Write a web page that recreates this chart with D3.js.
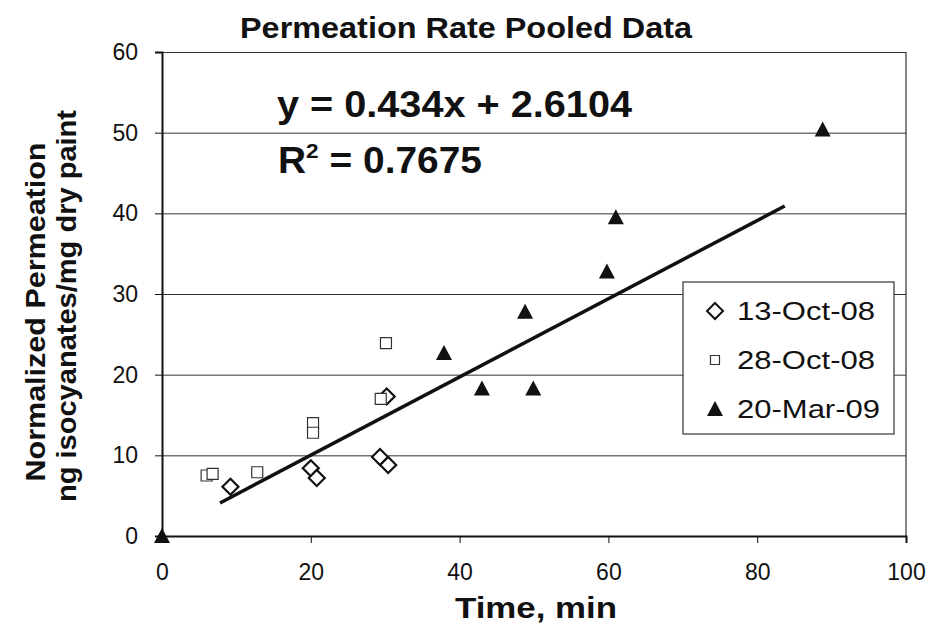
<!DOCTYPE html>
<html>
<head>
<meta charset="utf-8">
<script src="https://cdn.jsdelivr.net/npm/d3@7"></script>
<style>
  body { margin: 0; background: #fff; }
  text { font-family: "Liberation Sans", Arial, sans-serif; fill: #111; }
</style>
</head>
<body>
<div id="chart"></div>
<script>
// data
const octA = [[9.2, 6.1], [20.0, 8.4], [20.8, 7.2], [29.3, 9.8], [30.4, 8.8], [30.2, 17.3]]
const octB = [[6.0, 7.5], [6.8, 7.7], [12.8, 7.9], [20.3, 14.0], [20.3, 12.8], [29.4, 17.0], [30.1, 23.9]]
const mar = [[0, 0], [37.9, 22.7], [43.0, 18.3], [48.8, 27.8], [49.9, 18.3], [59.8, 32.8], [61.0, 39.5], [88.8, 50.4]]
const trendX = [7.8, 83.7]
const trendY = [4.1, 40.9]
const xTicks = [0, 20, 40, 60, 80, 100]
const yTicks = [0, 10, 20, 30, 40, 50, 60]
const seriesNames = ['13-Oct-08', '28-Oct-08', '20-Mar-09']

let margin = {top: 52, left: 162, right: 27, bottom: 90}
let W = 933, H = 626
let pxX = W - margin.left - margin.right,
    pxY = H - margin.top - margin.bottom

let svg = d3.select('#chart').append('svg')
    .attr('width', W).attr('height', H)

let g = svg.append('g')
    .attr('transform', `translate(${margin.left},${margin.top})`)

let scX = d3.scaleLinear().domain([0, 100]).range([0, pxX])
let scY = d3.scaleLinear().domain([0, 60]).range([pxY, 0])

// grid lines
g.append('g')
    .call(d3.axisLeft(scY).tickValues(yTicks.slice(1)).tickSize(-pxX).tickFormat(''))
    .call(a => a.select('.domain').remove())
    .selectAll('line').attr('stroke', '#333').attr('stroke-width', 1)

// frame right side
g.append('line').attr('x1', pxX).attr('x2', pxX).attr('y1', 0).attr('y2', pxY)
    .attr('stroke', '#333').attr('stroke-width', 1.2)

// axes
let yAxis = g.append('g').call(d3.axisLeft(scY).tickValues(yTicks).tickSize(7).tickPadding(17))
let xAxis = g.append('g').attr('transform', `translate(0,${pxY})`)
    .call(d3.axisBottom(scX).tickValues(xTicks).tickSize(7).tickPadding(21))
;[xAxis, yAxis].forEach(a => {
    a.select('.domain').attr('stroke', '#111').attr('stroke-width', 2)
    a.selectAll('line').attr('stroke', '#111')
    a.selectAll('text').attr('font-size', '23px').attr('fill', '#111')
        .style('font-family', '"Liberation Sans", Arial, sans-serif')
})

// trend line
g.append('line')
    .attr('x1', scX(trendX[0])).attr('y1', scY(trendY[0]))
    .attr('x2', scX(trendX[1])).attr('y2', scY(trendY[1]))
    .attr('stroke', '#111').attr('stroke-width', 3.5)

let diamond = 'M0,-8L8,0L0,8L-8,0Z'
let square = 'M-5.5,-5.5H5.5V5.5H-5.5Z'
let tri = 'M0,-8L8,7H-8Z'

g.selectAll('.a').data(octA).enter().append('path')
    .attr('transform', d => `translate(${scX(d[0])},${scY(d[1])})`)
    .attr('d', diamond).attr('fill', '#fff').attr('stroke', '#111').attr('stroke-width', 2.2)
g.selectAll('.b').data(octB).enter().append('path')
    .attr('transform', d => `translate(${scX(d[0])},${scY(d[1])})`)
    .attr('d', square).attr('fill', '#fff').attr('stroke', '#333').attr('stroke-width', 1.2)
g.selectAll('.c').data(mar).enter().append('path')
    .attr('transform', d => `translate(${scX(d[0])},${scY(d[1])})`)
    .attr('d', tri).attr('fill', '#111')

// equation
g.append('text').attr('x', 115).attr('y', 65)
    .attr('font-size', '36px').attr('font-weight', 'bold')
    .attr('textLength', 355).attr('lengthAdjust', 'spacingAndGlyphs')
    .text('y = 0.434x + 2.6104')
let r2 = g.append('text').attr('x', 116).attr('y', 121)
    .attr('font-size', '36px').attr('font-weight', 'bold')
    .attr('textLength', 204).attr('lengthAdjust', 'spacingAndGlyphs')
r2.append('tspan').text('R')
r2.append('tspan').attr('font-size', '21px').attr('dy', -15).text('2')
r2.append('tspan').attr('dy', 15).text(' = 0.7675')

// legend
let lg = svg.append('g').attr('transform', 'translate(683,282)')
lg.append('rect').attr('width', 211).attr('height', 152)
    .attr('fill', '#fff').attr('stroke', '#333').attr('stroke-width', 1.2)
let shapes = [diamond, square, tri]
seriesNames.forEach((name, i) => {
    let yy = 29 + i * 49
    let p = lg.append('path').attr('transform', `translate(32,${yy})`).attr('d', shapes[i])
    if (i == 0) p.attr('fill', '#fff').attr('stroke', '#111').attr('stroke-width', 2)
    if (i == 1) p.attr('fill', '#fff').attr('stroke', '#333').attr('stroke-width', 1.2).attr('d', 'M-4.5,-4.5H4.5V4.5H-4.5Z')
    if (i == 2) p.attr('fill', '#111')
    lg.append('text').attr('x', 54).attr('y', yy + 9)
        .attr('font-size', '26px')
        .attr('textLength', i == 2 ? 143 : 138).attr('lengthAdjust', 'spacingAndGlyphs')
        .text(name)
})

// titles
svg.append('text').attr('x', 466).attr('y', 38).attr('text-anchor', 'middle')
    .attr('font-size', '29px').attr('font-weight', 'bold')
    .attr('textLength', 452).attr('lengthAdjust', 'spacingAndGlyphs')
    .text('Permeation Rate Pooled Data')
svg.append('text').attr('x', 536).attr('y', 618).attr('text-anchor', 'middle')
    .attr('font-size', '29px').attr('font-weight', 'bold')
    .attr('textLength', 162).attr('lengthAdjust', 'spacingAndGlyphs')
    .text('Time, min')
svg.append('text').attr('transform', 'translate(45,312) rotate(-90)').attr('text-anchor', 'middle')
    .attr('font-size', '28px').attr('font-weight', 'bold')
    .attr('textLength', 339).attr('lengthAdjust', 'spacingAndGlyphs')
    .text('Normalized Permeation')
svg.append('text').attr('transform', 'translate(76,306) rotate(-90)').attr('text-anchor', 'middle')
    .attr('font-size', '28px').attr('font-weight', 'bold')
    .attr('textLength', 392).attr('lengthAdjust', 'spacingAndGlyphs')
    .text('ng isocyanates/mg dry paint')
</script>
</body>
</html>
